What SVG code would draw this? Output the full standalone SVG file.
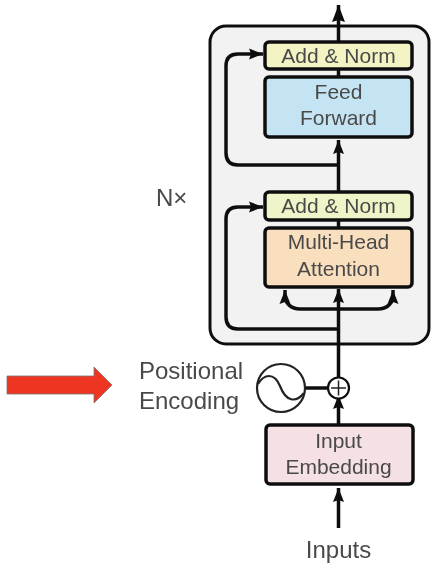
<svg xmlns="http://www.w3.org/2000/svg" width="444" height="568" viewBox="0 0 444 568">
<style>
.box{stroke:#111;stroke-width:3.5}
.lbl{font-family:"Liberation Sans",Arial,sans-serif;font-size:21px;fill:#4a4a4a;text-anchor:middle}
.side{font-family:"Liberation Sans",Arial,sans-serif;font-size:24px;fill:#4a4a4a}
.c{fill:none;stroke:#111;stroke-width:3.5;stroke-linejoin:round}
.thin{fill:none;stroke:#222;stroke-width:2.200}
</style>
<defs>
<filter id="soft" filterUnits="userSpaceOnUse" x="0" y="0" width="444" height="568"><feGaussianBlur stdDeviation="0.450"/></filter>
<marker id="ah" markerUnits="userSpaceOnUse" markerWidth="16" markerHeight="16" refX="14" refY="8" orient="auto">
<path d="M0,2.500 L14,8 L0,13.500 L2,8 Z" fill="#111"/>
</marker>
<marker id="ahL" markerUnits="userSpaceOnUse" markerWidth="20" markerHeight="20" refX="17" refY="10" orient="auto">
<path d="M0,3.500 L17,10 L0,16.500 L2,10 Z" fill="#111"/>
</marker>
</defs>
<rect width="444" height="568" fill="#fff"/>
<g filter="url(#soft)">
<g id="encoder-stack"><rect x="210" y="26" width="219" height="318" rx="16" fill="#f2f2f2" stroke="#111" stroke-width="3"/></g>
<g id="connectors">
<path class="c" d="M338.500 424V395" marker-end="url(#ah)"/>
<path class="c" d="M338.500 378V289" marker-end="url(#ah)"/>
<path class="c" d="M338.500 220V140" marker-end="url(#ah)"/>
<path class="c" d="M338.500 41V5" marker-end="url(#ahL)"/>
<path class="c" d="M338.500 77V68"/>
<path class="c" d="M338.500 228V220"/>
<path class="c" d="M338.500 528V488" marker-end="url(#ah)"/>
<path class="c" d="M338.500 165H238Q226 165 226 153V66Q226 54 238 54H263" marker-end="url(#ah)"/>
<path class="c" d="M338.500 329H238Q226 329 226 317V219Q226 207 238 207H263" marker-end="url(#ah)"/>
<path class="c" d="M338.500 309H300C291 309 285 303 285 296V290" marker-end="url(#ah)"/>
<path class="c" d="M338.500 309H378C387 309 393 303 393 296V290" marker-end="url(#ah)"/>
<path class="c" d="M305 388H328"/>
</g>
<g id="add-norm-top"><rect class="box" x="265" y="42" width="147" height="27" rx="4" fill="#f3f3c4"/><text class="lbl" x="338.500" y="63">Add &amp; Norm</text></g>
<g id="feed-forward"><rect class="box" x="265" y="77" width="147" height="60" rx="4" fill="#c5e4f3"/><text class="lbl" x="338.500" y="99">Feed</text><text class="lbl" x="338.500" y="125">Forward</text></g>
<g id="add-norm-bottom"><rect class="box" x="265" y="192" width="147" height="28" rx="4" fill="#eff5c8"/><text class="lbl" x="338.500" y="213">Add &amp; Norm</text></g>
<g id="multi-head-attention"><rect class="box" x="265" y="228" width="147" height="59" rx="4" fill="#fadfbe"/><text class="lbl" x="338.500" y="249">Multi-Head</text><text class="lbl" x="338.500" y="276">Attention</text></g>
<g id="nx"><text class="side" x="156" y="206">N×</text></g>
<g id="positional-encoding">
<text class="side" x="139" y="379">Positional</text><text class="side" x="139" y="409">Encoding</text>
<circle class="thin" cx="281" cy="388" r="24" fill="#fff"/>
<path class="thin" d="M258 384C264 374 274 372 280 386C286 402 296 403 304 393"/>
</g>
<g id="add"><circle cx="338.500" cy="388" r="10.500" fill="#fff" stroke="#111" stroke-width="2.200"/><path d="M331 388H346M338.500 380.500V395.500" stroke="#222" stroke-width="1.500" fill="none"/></g>
<g id="input-embedding"><rect class="box" x="266" y="425" width="147" height="59" rx="4" fill="#f5e1e3"/><text class="lbl" x="338.500" y="448">Input</text><text class="lbl" x="338.500" y="474">Embedding</text></g>
<g id="inputs"><text class="side" x="338.500" y="558" text-anchor="middle">Inputs</text></g>
<g id="red-arrow"><path d="M7 376H94V367L112 385L94 403V394H7Z" fill="#ee3524" stroke="#777" stroke-width="0.800"/></g>
</g>
</svg>
